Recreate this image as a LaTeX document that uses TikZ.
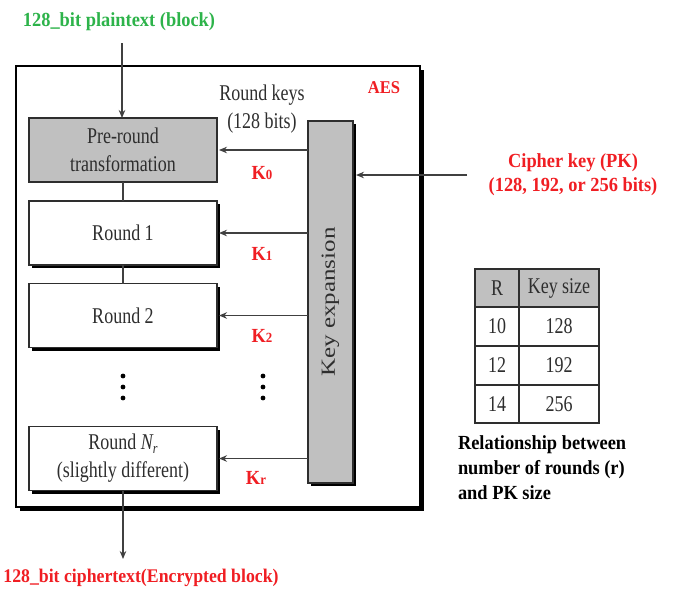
\documentclass[tikz,border=0pt]{standalone}
\usepackage{fontspec}
\setmainfont{Liberation Serif}
\newfontfamily\condfont{Liberation Serif}[FakeStretch=0.8]
\newfontfamily\labfont{Liberation Serif Bold}[FakeStretch=0.92]
\usetikzlibrary{arrows.meta,shadows}

\definecolor{boxgray}{HTML}{C0C0C0}
\definecolor{inkgray}{HTML}{2E2E2E}
\definecolor{linegray}{HTML}{404040}
\definecolor{labred}{HTML}{F01E23}
\definecolor{labgreen}{HTML}{2DB34A}

\begin{document}
\begin{tikzpicture}[x=1pt,y=-1pt,
  every node/.style={inner sep=0pt, outer sep=0pt},
  diagtext/.style={font=\condfont\fontsize{22.5}{28}\selectfont, text=inkgray, align=center},
  labtext/.style={font=\labfont\fontsize{20}{24}\selectfont, align=center},
  keytext/.style={font=\labfont\fontsize{20}{20}\selectfont, text=labred},
  blackshadow/.style={drop shadow={shadow xshift=#1, shadow yshift=-#1, fill=black, opacity=1}},
  stage/.style={diagtext, draw=inkgray, line width=1.4pt, fill=white,
    minimum width=188pt, minimum height=64pt},
  cell/.style={diagtext, draw=inkgray, line width=1.4pt, fill=white},
  flow/.style={draw=linegray, line width=1.3pt},
  flowarrow/.style={flow, -{Stealth[length=8pt,width=6.5pt]}},
  keyarrow/.style={flowarrow, shorten >=2pt}
]
\useasboundingbox (0,0) rectangle (675,590);

% AES frame
\node[draw=black, line width=1.6pt, fill=white, blackshadow=4pt,
  minimum width=404pt, minimum height=441pt] (aes) at (218,286.5) {};
\node[font=\labfont\fontsize{18}{18}\selectfont, text=labred] (aestitle) at (384,88) {AES};

% round pipeline
\node[stage, fill=boxgray] (pre) at (123,150) {Pre-round\\transformation};
\node[stage, blackshadow=3pt] (r1) at (123,233) {Round 1};
\node[stage, blackshadow=3pt] (r2) at (123,315.5) {Round 2};
\node[stage, blackshadow=3pt] (rn) at (123,458.5)
  {Round {\itshape N}\raisebox{-0.35ex}{\fontsize{15}{15}\selectfont\itshape r}\\(slightly different)};

\draw[flow] (pre.south) -- (r1.north);
\draw[flow] (r1.south) -- (r2.north);

% vertical ellipses
\foreach \yy in {376,387,398}{
  \fill[black] (123,\yy) circle (2.4pt);
  \fill[black] (263,\yy) circle (2.4pt);
}

% key expansion
\node[draw=inkgray, line width=1.4pt, fill=boxgray, blackshadow=3pt,
  minimum width=45pt, minimum height=362pt] (kx) at (330.5,302) {};
\node[rotate=90, font=\fontsize{25}{25}\selectfont, text=inkgray] (kxlabel) at (kx.center)
  {\scalebox{1}[0.8]{Key expansion}};

\node[diagtext] (rkeys) at (262,109) {Round keys\\(128 bits)};

\foreach \s in {pre,r1,r2,rn}
  \draw[keyarrow] (kx.west |- \s.east) -- (\s.east);

\node[keytext] (k0) at (262,173) {K{\fontsize{14}{14}\selectfont 0}};
\node[keytext] (k1) at (262,254) {K{\fontsize{14}{14}\selectfont 1}};
\node[keytext] (k2) at (262,336) {K{\fontsize{14}{14}\selectfont 2}};
\node[keytext] (kr) at (256,478) {K{\fontsize{14}{14}\selectfont r}};

% plaintext in, ciphertext out
\node[labtext, text=labgreen] (ptxt) at (119,22) {128\_bit plaintext (block)};
\coordinate (pin) at (122,43);
\draw[flowarrow] (pin) -- (pin |- pre.north);

\node[labtext, text=labred, font=\labfont\fontsize{19.3}{24}\selectfont] (ctxt) at (141,578)
  {128\_bit ciphertext(Encrypted block)};
\coordinate (cout) at (123,559);
\draw[flowarrow] (rn.south) -- (cout);

% cipher key
\node[labtext, text=labred] (ckey) at (573,175) {Cipher key (PK)\\(128, 192, or 256 bits)};
\coordinate (ckin) at (467,175);
\draw[flowarrow, shorten >=3pt] (ckin) -- (kx.east |- ckin);

% rounds vs key size table
\node[cell, fill=boxgray, minimum width=44pt, minimum height=38pt] (hR) at (497,288) {R};
\node[cell, fill=boxgray, minimum width=80pt, minimum height=38pt] (hK) at (559,288) {Key size};
\node[cell, minimum width=44pt, minimum height=39pt] (a1) at (497,326.5) {10};
\node[cell, minimum width=80pt, minimum height=39pt] (b1) at (559,326.5) {128};
\node[cell, minimum width=44pt, minimum height=39pt] (a2) at (497,365.5) {12};
\node[cell, minimum width=80pt, minimum height=39pt] (b2) at (559,365.5) {192};
\node[cell, minimum width=44pt, minimum height=38pt] (a3) at (497,404) {14};
\node[cell, minimum width=80pt, minimum height=38pt] (b3) at (559,404) {256};

\node[labtext, text=black, align=left, anchor=west, font=\labfont\fontsize{20}{25}\selectfont]
  (caption) at (458,468) {Relationship between\\number of rounds (r)\\and PK size};
\end{tikzpicture}
\end{document}
